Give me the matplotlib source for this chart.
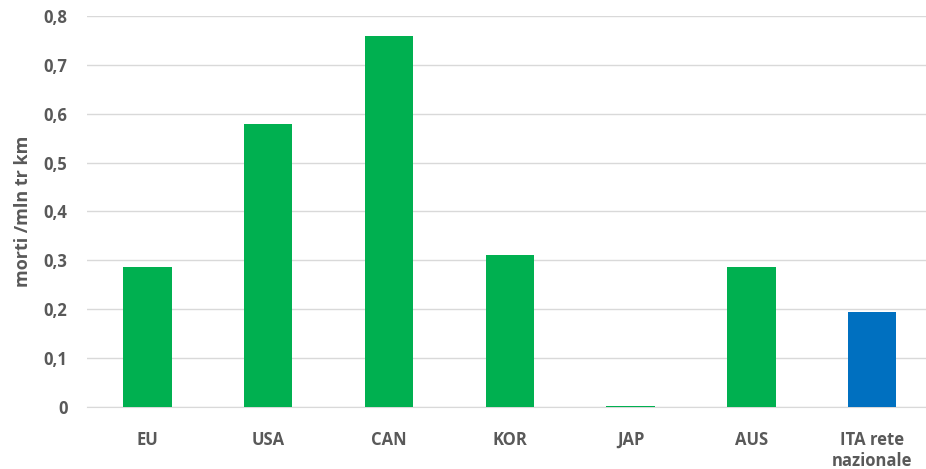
import numpy as np
from matplotlib import pyplot as plt

categories = ["EU", "USA", "CAN", "KOR", "JAP", "AUS", "ITA rete\nnazionale"]
values = [0.286, 0.58, 0.76, 0.312, 0.003, 0.287, 0.194]
colors = ["#00B050"] * 6 + ["#0070C0"]
yticks = [0, 0.1, 0.2, 0.3, 0.4, 0.5, 0.6, 0.7, 0.8]
ytick_labels = ["0", "0,1", "0,2", "0,3", "0,4", "0,5", "0,6", "0,7", "0,8"]

plt.rcParams['font.family'] = ['Open Sans', 'DejaVu Sans']
text_color = "#595959"

fig = plt.figure(figsize=(9.26, 4.69), dpi=100)
# plot area runs slightly past the right edge, as in the reference
ax = fig.add_axes([87 / 926, (469 - 407) / 469, 7 * 120.8 / 926, (407 - 16) / 469])

x = np.arange(len(categories))
ax.bar(x, values, width=0.4, color=colors, zorder=3)

ax.set_xlim(-0.5, len(categories) - 0.5)
ax.set_ylim(0, 0.8)
ax.set_yticks(yticks)
ax.set_yticklabels(ytick_labels)
ax.set_xticks(x)
ax.set_xticklabels(categories, linespacing=1.25)

ax.grid(axis='y', color="#d9d9d9", linewidth=1, zorder=0)
for side in ['top', 'right', 'left']:
    ax.spines[side].set_visible(False)
ax.spines['bottom'].set_color("#d9d9d9")
ax.tick_params(axis='both', length=0, colors=text_color, labelsize=12)
ax.tick_params(axis='x', pad=17)
ax.tick_params(axis='y', pad=14)
for lbl in ax.get_xticklabels() + ax.get_yticklabels():
    lbl.set_fontweight('bold')

ax.set_ylabel("morti /mln tr km", fontsize=13, fontweight='bold', color=text_color, labelpad=8)

plt.savefig("out.png", format='png', dpi=100)
plt.close()
